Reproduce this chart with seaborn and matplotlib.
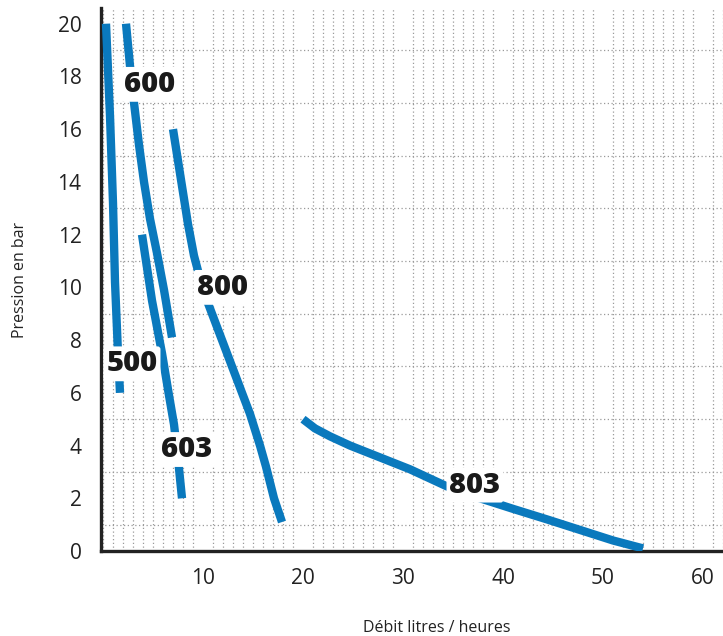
import numpy as np
import pandas as pd
import matplotlib
matplotlib.use('Agg')
import matplotlib.pyplot as plt
import seaborn as sns
from matplotlib.ticker import MultipleLocator, FixedLocator

# ==========================================
# DATA
# ==========================================
x_500 = [0.3, 0.7, 1.0, 1.2, 1.5, 1.7]
y_500 = [20.0, 16.5, 13.2, 10.2, 7.5, 6.0]

x_600 = [2.3, 2.7, 3.1, 3.6, 4.1, 4.7, 5.4, 6.1, 6.9]
y_600 = [20.0, 18.4, 17.0, 15.4, 14.0, 12.6, 11.3, 9.9, 8.1]

x_603 = [3.9, 4.9, 5.9, 6.6, 7.1, 7.5, 7.9]
y_603 = [12.0, 9.5, 7.5, 5.9, 4.8, 3.5, 2.0]

x_800 = [7.0, 7.5, 8.0, 8.5, 9.1, 9.8, 10.5, 12.0, 13.7, 14.7, 15.7, 16.3, 17.1, 17.9]
y_800 = [16.0, 14.8, 13.6, 12.4, 11.2, 10.2, 9.4, 7.9, 6.2, 5.2, 4.0, 3.2, 2.0, 1.1]

x_803 = [20.0, 21.2, 22.7, 24.7, 26.7, 30.7, 34.4, 37.7, 41.0, 44.4, 47.7, 51.0, 54.0]
y_803 = [5.0, 4.65, 4.35, 4.0, 3.7, 3.1, 2.45, 2.0, 1.6, 1.2, 0.8, 0.4, 0.1]

models = ["500", "600", "603", "800", "803"]
label_x = [2.9, 4.7, 8.4, 11.9, 37.2]
label_y = [7.1, 17.7, 3.85, 10.0, 2.5]

x_ticks = [10, 20, 30, 40, 50, 60]
y_ticks = [0, 2, 4, 6, 8, 10, 12, 14, 16, 18, 20]
y_grid = [1, 3, 5, 7, 9, 11, 13, 15, 17, 19]

BLUE = "#0A79BD"

series = {
    "500": (x_500, y_500),
    "600": (x_600, y_600),
    "603": (x_603, y_603),
    "800": (x_800, y_800),
    "803": (x_803, y_803),
}
df = pd.concat([
    pd.DataFrame({"debit": xs, "pression": ys, "modele": name})
    for name, (xs, ys) in series.items()
], ignore_index=True)

# ==========================================
# PLOT
# ==========================================
sns.set_style("white")
plt.rcParams['font.family'] = ['Open Sans', 'DejaVu Sans']

fig = plt.figure(figsize=(7.23, 6.36), dpi=100)
ax = fig.add_axes([0.1397, 0.1336, 0.8603, 0.854])

for name in models:
    sub = df[df["modele"] == name]
    sns.lineplot(data=sub, x="debit", y="pression", ax=ax, color=BLUE,
                 linewidth=6, sort=False, estimator=None,
                 solid_capstyle='butt', solid_joinstyle='round', zorder=3)

for name, lx, ly in zip(models, label_x, label_y):
    ax.text(lx, ly, name, ha='center', va='center', fontsize=21,
            fontweight='heavy', color='#1a1a1a', zorder=5,
            bbox=dict(boxstyle='round,pad=0.1', fc='white', ec='none'))

ax.set_xlim(-0.2, 62.0)
ax.set_ylim(0, 20.6)

ax.xaxis.set_major_locator(FixedLocator(x_ticks))
ax.yaxis.set_major_locator(FixedLocator(y_ticks))
ax.xaxis.set_minor_locator(MultipleLocator(1))
ax.yaxis.set_minor_locator(FixedLocator(y_grid))

ax.tick_params(axis='both', which='major', direction='in', length=11,
               width=1.6, color='#222222', labelsize=15, labelcolor='#222222')
ax.tick_params(axis='x', which='major', pad=12)
ax.tick_params(axis='y', which='major', pad=14)
ax.tick_params(axis='both', which='minor', length=0)

ax.grid(False)
ax.grid(which='minor', axis='both', color='#9a9a9a', linestyle=(0, (1, 2)),
        linewidth=0.9)
ax.set_axisbelow(True)

sns.despine(ax=ax, top=True, right=True)
for side in ['left', 'bottom']:
    ax.spines[side].set_linewidth(2.4)
    ax.spines[side].set_color('#222222')

ax.set_xlabel("Débit litres / heures", fontsize=11.5, color='#222222')
ax.set_ylabel("Pression en bar", fontsize=11.5, color='#222222', labelpad=21)
ax.xaxis.set_label_coords(0.54, -0.127)

fig.savefig("out.png", dpi=100)
